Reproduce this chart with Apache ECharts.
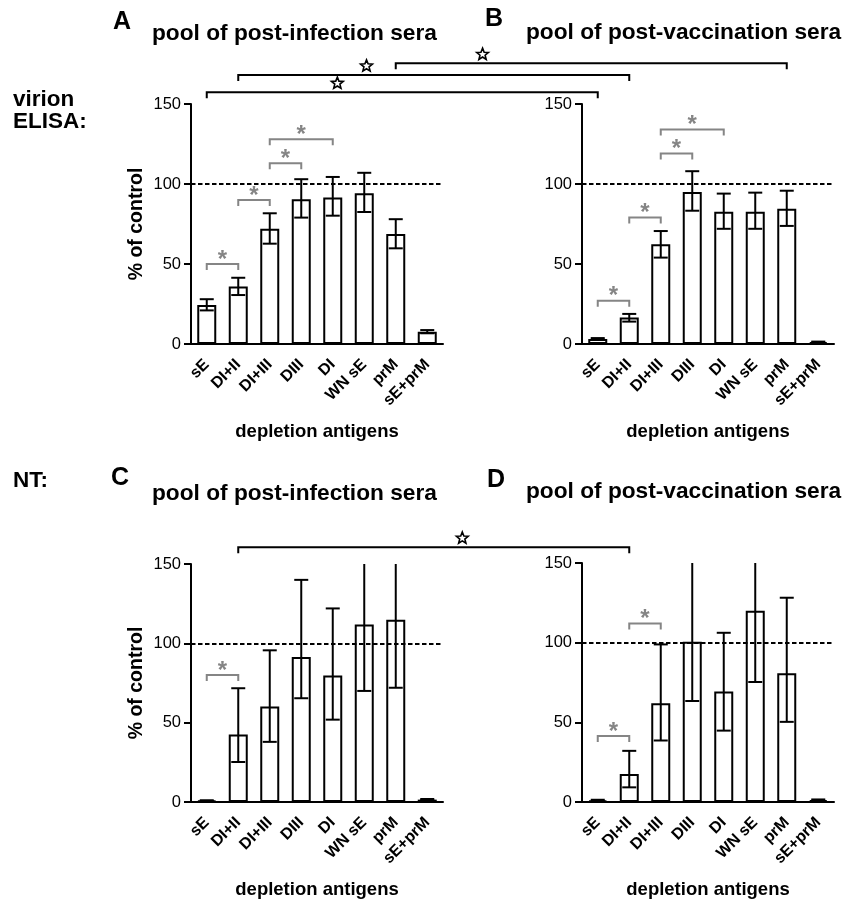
<!DOCTYPE html>
<html><head><meta charset="utf-8">
<script src="https://cdn.jsdelivr.net/npm/echarts@6/dist/echarts.min.js"></script>
<style>html,body{margin:0;padding:0;background:#fff}#main{width:846px;height:900px}</style>
</head><body><div id="main"></div>
<script>
// ---------- DATA ----------
const categories = ['sE', 'DI+II', 'DI+III', 'DIII', 'DI', 'WN sE', 'prM', 'sE+prM'];
const yTickValues = [0, 50, 100, 150];
const referenceLevel = 100;

// A: virion ELISA, pool of post-infection sera
const elisaInfMean = [24.4, 36.0, 72.0, 90.5, 91.5, 94.2, 68.8, 7.7];
const elisaInfLow  = [21.0, 30.6, 62.7, 79.0, 80.2, 82.5, 59.8, 6.7];
const elisaInfHigh = [28.0, 41.4, 81.7, 103.0, 104.4, 107.0, 78.0, 8.7];
// B: virion ELISA, pool of post-vaccination sera
const elisaVacMean = [3.2, 16.6, 62.3, 95.0, 82.7, 82.7, 84.5, 1.2];
const elisaVacLow  = [2.7, 14.0, 54.0, 83.3, 72.0, 72.0, 73.8, 0.9];
const elisaVacHigh = [3.7, 18.8, 70.6, 108.0, 94.0, 94.6, 95.8, 1.5];
// C: NT, pool of post-infection sera
const ntInfMean = [0.8, 42.5, 60.2, 91.4, 79.8, 111.9, 114.8, 1.5];
const ntInfLow  = [0.5, 25.2, 37.9, 65.4, 51.9, 70.0, 72.0, 1.1];
const ntInfHigh = [1.1, 71.7, 95.6, 140.0, 122.0, 180.0, 185.0, 1.9];
// D: NT, pool of post-vaccination sera
const ntVacMean = [1.0, 17.5, 62.0, 100.6, 69.3, 120.0, 80.8, 1.2];
const ntVacLow  = [0.6, 9.2, 38.6, 63.4, 44.8, 75.3, 50.3, 0.8];
const ntVacHigh = [1.4, 32.1, 98.9, 175.0, 106.2, 190.0, 128.2, 1.6];

// significance brackets within a panel: [fromCategoryIndex, toCategoryIndex, level]
const sigA = [[0, 1, 50], [1, 2, 90], [2, 3, 113], [2, 4, 128]];
const sigB = [[0, 1, 27], [1, 2, 79], [2, 3, 119], [2, 4, 134]];
const sigC = [[0, 1, 80]];
const sigD = [[0, 1, 41.4], [1, 2, 112]];

// brackets between panels: [fromPanel, fromCategory, toPanel, toCategory, level, star position along bracket]
const crossBrackets = [
  [0, 0, 1, 0, 157.3, 0.334],
  [0, 1, 1, 1, 168.1, 0.328],
  [0, 6, 1, 6, 175.4, 0.222],
  [2, 1, 3, 1, 160.6, 0.573]
];

const panelTitles = ['pool of post-infection sera', 'pool of post-vaccination sera',
                     'pool of post-infection sera', 'pool of post-vaccination sera'];
const panelLetters = ['A', 'B', 'C', 'D'];
const rowLabels = ['virion\nELISA:', 'NT:'];
const yAxisTitle = '% of control';
const xAxisTitle = 'depletion antigens';

// ---------- CHART ----------
const FONT = 'Liberation Sans, Arial, Helvetica, sans-serif';
const GRAY = '#858585';
const yMin = yTickValues[0], yMax = yTickValues[yTickValues.length - 1];
const yStep = yTickValues[1] - yTickValues[0];

const panels = [
  {mean: elisaInfMean, low: elisaInfLow, high: elisaInfHigh, sig: sigA},
  {mean: elisaVacMean, low: elisaVacLow, high: elisaVacHigh, sig: sigB},
  {mean: ntInfMean, low: ntInfLow, high: ntInfHigh, sig: sigC},
  {mean: ntVacMean, low: ntVacLow, high: ntVacHigh, sig: sigD}
];
const gridBoxes = [
  {left: 191, top: 104, width: 252, height: 240},
  {left: 582, top: 104, width: 252, height: 240},
  {left: 191, top: 564, width: 252, height: 239},
  {left: 582, top: 563, width: 252, height: 239.5}
];

const chart = echarts.init(document.getElementById('main'));

function errorRender(params, api) {
  const x = api.value(0), lo = api.value(1), hi = api.value(2);
  const top = Math.min(hi, yMax);
  const pLo = api.coord([x, lo]);
  const pHi = api.coord([x, top]);
  const half = 7;
  const st = {stroke: '#000', lineWidth: 2};
  const children = [
    {type: 'line', shape: {x1: pLo[0], y1: pLo[1], x2: pHi[0], y2: pHi[1]}, style: st},
    {type: 'line', shape: {x1: pLo[0] - half, y1: pLo[1], x2: pLo[0] + half, y2: pLo[1]}, style: st}
  ];
  if (hi <= yMax) {
    children.push({type: 'line', shape: {x1: pHi[0] - half, y1: pHi[1], x2: pHi[0] + half, y2: pHi[1]}, style: st});
  }
  return {type: 'group', children};
}

function sigRender(params, api) {
  const p1 = api.coord([api.value(0), api.value(2)]);
  const p2 = api.coord([api.value(1), api.value(2)]);
  const drop = 6;
  return {type: 'group', children: [
    {type: 'polyline', shape: {points: [[p1[0], p1[1] + drop], [p1[0], p1[1]], [p2[0], p2[1]], [p2[0], p2[1] + drop]]},
     style: {stroke: GRAY, lineWidth: 2, fill: null}},
    {type: 'text', x: (p1[0] + p2[0]) / 2, y: p1[1] - 4,
     style: {text: '*', fill: GRAY, font: 'bold 24px ' + FONT, align: 'center', verticalAlign: 'middle'}}
  ]};
}

const grid = [], xAxis = [], yAxis = [], series = [];
const barSeriesIndex = [];
panels.forEach((p, i) => {
  grid.push(Object.assign({containLabel: false}, gridBoxes[i]));
  xAxis.push({
    type: 'category', gridIndex: i, data: categories, boundaryGap: true,
    axisLine: {lineStyle: {color: '#000', width: 2}},
    axisTick: {alignWithLabel: true, length: 7, lineStyle: {color: '#000', width: 2}},
    axisLabel: {interval: 0, rotate: 45, margin: 18, color: '#000', fontFamily: FONT, fontWeight: 'bold', fontSize: 16},
    name: xAxisTitle, nameLocation: 'middle', nameGap: 78,
    nameTextStyle: {color: '#000', fontFamily: FONT, fontWeight: 'bold', fontSize: 18.5},
    splitLine: {show: false}
  });
  yAxis.push({
    type: 'value', gridIndex: i, min: yMin, max: yMax, interval: yStep,
    axisLine: {show: true, lineStyle: {color: '#000', width: 2}},
    axisTick: {show: true, length: 7, lineStyle: {color: '#000', width: 2}},
    axisLabel: {margin: 10, color: '#000', fontFamily: FONT, fontSize: 16.5},
    splitLine: {show: false},
    name: (i % 2 === 0) ? yAxisTitle : '', nameLocation: 'middle', nameGap: 44, nameRotate: 90,
    nameTextStyle: {color: '#000', fontFamily: FONT, fontWeight: 'bold', fontSize: 19.5}
  });
  // dashed reference line (behind bars)
  series.push({
    type: 'line', xAxisIndex: i, yAxisIndex: i, data: [], silent: true, z: 1,
    markLine: {silent: true, symbol: ['none', 'none'], label: {show: false},
      lineStyle: {color: '#000', width: 2, type: [4.5, 2.5]}, data: [{yAxis: referenceLevel}]}
  });
  barSeriesIndex.push(series.length);
  series.push({
    type: 'bar', xAxisIndex: i, yAxisIndex: i, data: p.mean, barWidth: 19, z: 2,
    itemStyle: {color: '#fff', borderColor: '#000', borderWidth: 2}
  });
  series.push({
    type: 'custom', xAxisIndex: i, yAxisIndex: i, z: 3,
    data: categories.map((c, k) => [k, p.low[k], p.high[k]]),
    encode: {x: 0, y: [1, 2]}, renderItem: errorRender
  });
  series.push({
    type: 'custom', xAxisIndex: i, yAxisIndex: i, z: 3,
    data: p.sig, encode: {x: [0, 1], y: 2}, renderItem: sigRender
  });
});

chart.setOption({
  animation: false, backgroundColor: '#fff',
  grid, xAxis, yAxis, series
});

// ---------- annotations ----------
const graphic = [];
const letterPos = [[122, 22], [494, 19], [120, 478], [496, 480]];
const titlePos = [[152, 34], [526, 33], [152, 494], [526, 492]];
panelLetters.forEach((L, i) => {
  graphic.push({type: 'text', x: letterPos[i][0], y: letterPos[i][1],
    style: {text: L, font: 'bold 25px ' + FONT, fill: '#000', align: 'center', verticalAlign: 'middle'}});
  graphic.push({type: 'text', x: titlePos[i][0], y: titlePos[i][1],
    style: {text: panelTitles[i], font: 'bold 22.7px ' + FONT, fill: '#000', align: 'left', verticalAlign: 'middle'}});
});
graphic.push({type: 'text', x: 13, y: 111, style: {text: rowLabels[0], font: 'bold 22.5px ' + FONT, lineHeight: 22,
  fill: '#000', align: 'left', verticalAlign: 'middle'}});
graphic.push({type: 'text', x: 13, y: 481, style: {text: rowLabels[1], font: 'bold 22.5px ' + FONT,
  fill: '#000', align: 'left', verticalAlign: 'middle'}});

function starPoints(cx, cy, R, r) {
  const pts = [];
  for (let k = 0; k < 10; k++) {
    const a = -Math.PI / 2 + k * Math.PI / 5;
    const rad = (k % 2 === 0) ? R : r;
    pts.push([cx + rad * Math.cos(a), cy + rad * Math.sin(a)]);
  }
  return pts;
}

crossBrackets.forEach(b => {
  const [fp, fc, tp, tc, level, t] = b;
  const p1 = chart.convertToPixel({seriesIndex: barSeriesIndex[fp]}, [fc, level]);
  const p2 = chart.convertToPixel({seriesIndex: barSeriesIndex[tp]}, [tc, 0]);
  const y = p1[1], drop = 6;
  graphic.push({type: 'polyline', shape: {points: [[p1[0], y + drop], [p1[0], y], [p2[0], y], [p2[0], y + drop]]},
    style: {stroke: '#000', lineWidth: 2, fill: null}});
  const sx = p1[0] + t * (p2[0] - p1[0]);
  graphic.push({type: 'polygon', shape: {points: starPoints(sx, y - 9, 6.2, 2.7)},
    style: {stroke: '#000', lineWidth: 1.6, fill: '#fff', lineJoin: 'miter'}});
});

chart.setOption({graphic});
</script></body></html>
